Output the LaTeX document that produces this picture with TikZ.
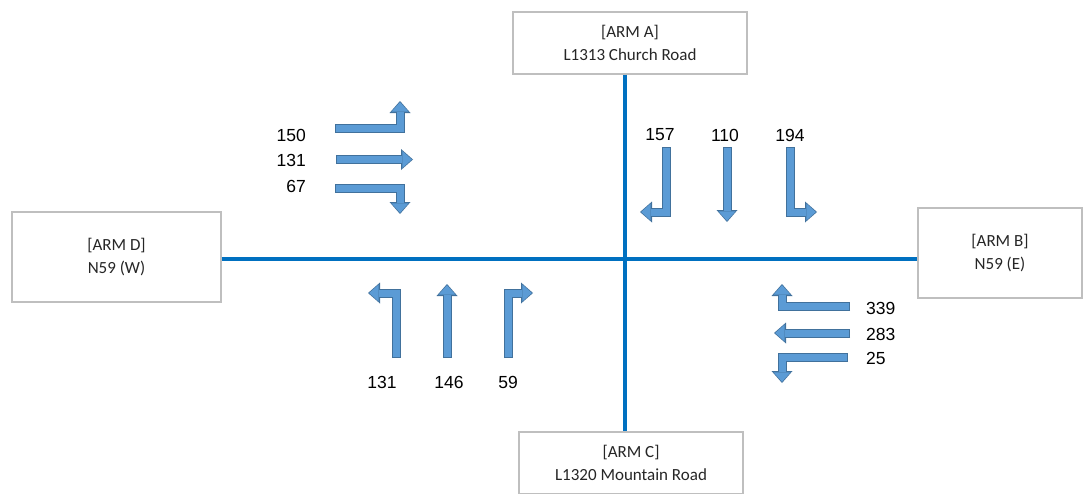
\documentclass[tikz,border=0pt]{standalone}
\usepackage{fontspec}
\setmainfont{Liberation Sans}
\newfontfamily\boxfont{Carlito}
\usetikzlibrary{arrows.meta,positioning}
\definecolor{roadblue}{HTML}{0070C0}
\definecolor{flowfill}{HTML}{5B9BD5}
\definecolor{flowedge}{HTML}{41719C}
\definecolor{boxgray}{HTML}{BFBFBF}
\tikzset{
  arm/.style={draw=boxgray,line width=1.3pt,fill=white,align=center,inner sep=0pt,
    text=black!85,font=\boxfont\fontsize{17}{23}\selectfont},
  road/.style={draw=roadblue,line width=4pt},
  flow/.style={draw=flowfill,line width=7pt,line join=miter,shorten <=1pt,shorten >=1.2pt,
    -{Triangle[width=17pt,length=9.5pt,line width=0pt]},
    preaction={draw=flowedge,line width=9pt,shorten <=0pt,shorten >=0pt,
      -{Triangle[width=21pt,length=12pt,line width=0pt]}}},
  count/.style={inner sep=0pt,font=\fontsize{17.5}{20}\selectfont}
}
\begin{document}
\begin{tikzpicture}[x=1pt,y=-1pt]
\useasboundingbox (0,0) rectangle (1083,493);
% the four arms
\node[arm,minimum width=234,minimum height=62] (armA) at (630,43) {[ARM A]\\L1313 Church Road};
\node[arm,minimum width=164,minimum height=90] (armB) at (1000,253) {[ARM B]\\N59 (E)};
\node[arm,minimum width=224,minimum height=62] (armC) at (631,463) {[ARM C]\\L1320 Mountain Road};
\node[arm,minimum width=209,minimum height=90] (armD) at (116.5,257) {[ARM D]\\N59 (W)};
\coordinate (ctr) at (625,259);
\draw[road] (armA.south -| ctr) -- (armC.north -| ctr);
\draw[road] (armD.east |- ctr) -- (armB.west |- ctr);
%
% Arm D approach
\node[count,anchor=east] (dL) at (306,135) {150};
\node[count,anchor=east] (dT) at (306,160) {131};
\node[count,anchor=east] (dR) at (306,186) {67};
\draw[flow] (335,128) -- (400,128) -- (400,101);
\draw[flow] (336,159.5) -- (413,159.5);
\draw[flow] (335,188.5) -- (400,188.5) -- (400,214);
%
% Arm A approach
\node[count] (aR) at (660,135) {157};
\node[count] (aT) at (725,135) {110};
\node[count] (aL) at (790,135) {194};
\draw[flow] (666,147) -- (666,212) -- (640,212);
\draw[flow] (727,147) -- (727,222);
\draw[flow] (790,147) -- (790,212) -- (817,212);
%
% Arm C approach
\node[count] (cL) at (382,382) {131};
\node[count] (cT) at (449,382) {146};
\node[count] (cR) at (508,382) {59};
\draw[flow] (396,358) -- (396,293) -- (368,293);
\draw[flow] (447,358) -- (447,284);
\draw[flow] (508,358) -- (508,293) -- (533,293);
%
% Arm B approach
\node[count,anchor=west] (bR) at (866,308) {339};
\node[count,anchor=west] (bT) at (866,334) {283};
\node[count,anchor=west] (bL) at (866,358) {25};
\draw[flow] (850,306) -- (782,306) -- (782,284);
\draw[flow] (850,333) -- (774,333);
\draw[flow] (848,357) -- (782,357) -- (782,383);
\end{tikzpicture}
\end{document}
